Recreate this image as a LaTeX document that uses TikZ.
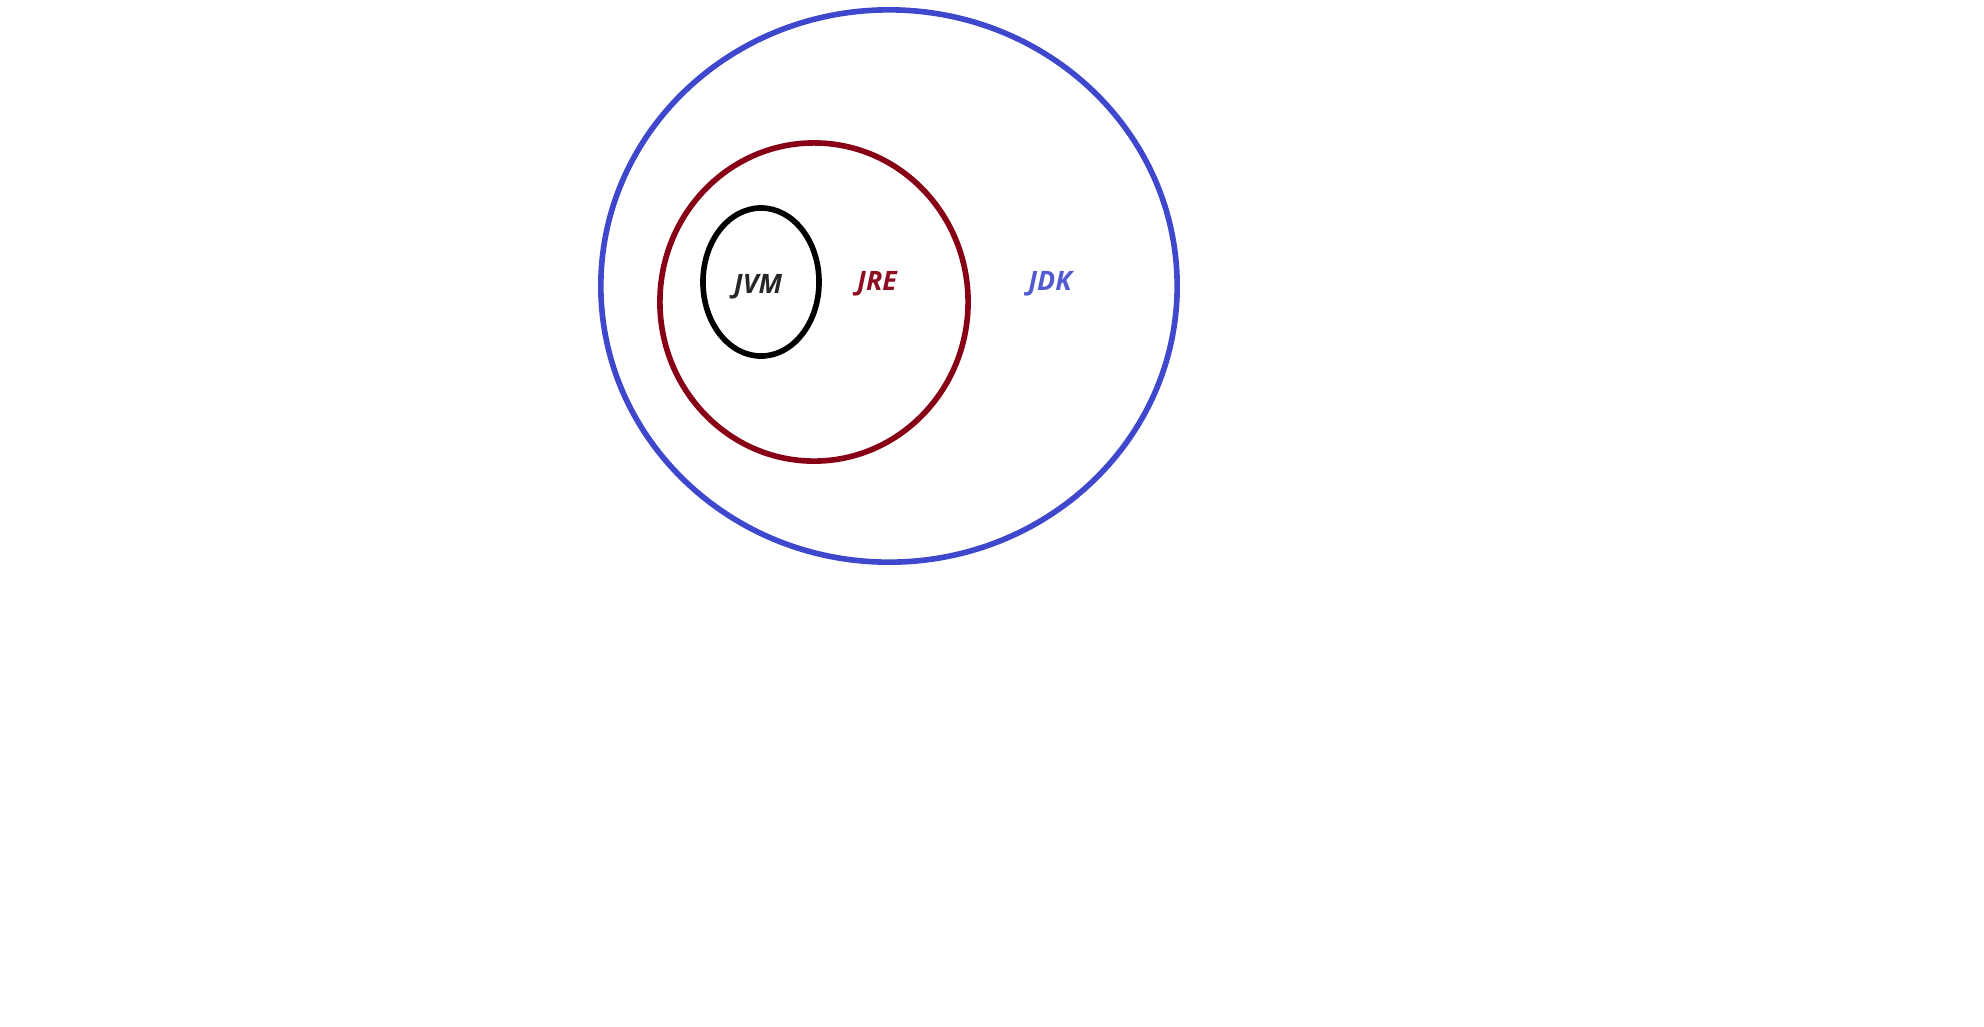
\documentclass[tikz,border=0pt]{standalone}
\usepackage{fontspec}
\newfontfamily\labelfont{Open Sans}
\usepackage{xcolor}
\usepackage{tikz}
\definecolor{jdkblue}{HTML}{3F48CC}
\definecolor{jrered}{HTML}{880015}
\tikzset{
  lbl/.style={font=\labelfont\fontsize{7.6}{9}\selectfont\bfseries\itshape, inner sep=0pt}
}

\begin{document}
\begin{tikzpicture}[x=0.01cm, y=-0.01cm, line width=1.6pt]
  \useasboundingbox (0,0) rectangle (1984,1026);
  % JDK (aussen)
  \draw[jdkblue] (889,286) ellipse (2.88cm and 2.76cm);
  \node[lbl, jdkblue!90] (jdk) at (1050,284) {JDK};

  % JRE
  \draw[jrered] (814,302) ellipse (1.54cm and 1.59cm);
  \node[lbl, jrered!95] (jre) at (877,284) {JRE};

  % JVM (innen)
  \draw[black] (761,282) ellipse (0.58cm and 0.74cm);
  \node[lbl, black!85] (jvm) at (758,287) {JVM};
\end{tikzpicture}
\end{document}
